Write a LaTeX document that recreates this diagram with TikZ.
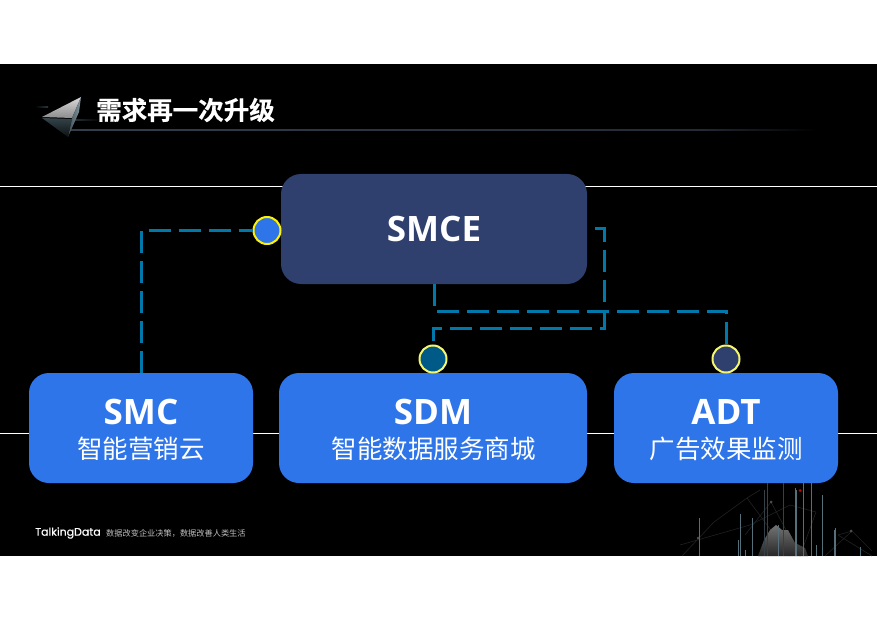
\documentclass[tikz,border=0pt]{standalone}
\usepackage{fontspec}
\setmainfont{Open Sans}
\newfontfamily\cjk{Noto Sans CJK SC}
\newfontfamily\cjkb[FakeBold=0.4]{Noto Sans CJK SC Bold}
\newfontfamily\pop[FakeBold=0.5]{Poppins}
\newcommand{\fsz}[1]{\fontsize{#1}{#1}\selectfont}
\definecolor{navybox}{HTML}{2F3F6E}
\definecolor{bluebox}{HTML}{2E75EA}
\definecolor{dashc}{HTML}{0078AA}
\definecolor{tealc}{HTML}{005A87}
\definecolor{softy}{HTML}{F5F56E}
\definecolor{skyc}{HTML}{55707A}
\definecolor{netc}{HTML}{202224}
\definecolor{rulec}{HTML}{333D4C}
\tikzset{
  navynode/.style={fill=navybox,rounded corners=20pt,minimum width=306pt,minimum height=110pt,inner sep=0pt,text=white,font=\bfseries\fsz{35}},
  bluenode/.style={fill=bluebox,rounded corners=20pt,minimum height=110pt,inner sep=0pt},
  headtext/.style={inner sep=0pt,text=white,font=\bfseries\fsz{35}},
  subtext/.style={inner sep=0pt,text=white,font=\cjk\fsz{25.5}},
  dot/.style={circle,draw=#1,line width=2pt,minimum size=27pt,inner sep=0pt},
  conn/.style={draw=dashc,line width=3pt,dash pattern=on 22pt off 8pt},
  sky/.style={draw=skyc,line width=.9pt},
  net/.style={draw=netc,line width=.6pt},
}
\begin{document}
\begin{tikzpicture}[x=1pt,y=-1pt]
\useasboundingbox (0,0) rectangle (877,620);
\fill[white] (0,0) rectangle (877,620);
\fill[black] (0,64) rectangle (877,556);
% skyline decoration
\begin{scope}
\clip (660,470) rectangle (877,556);
\foreach \a/\b/\c/\d in {682/556/714/522,714/522/747/498,747/498/760/490,747/498/790/556,680/545/750/525,750/525/790/505,790/505/816/512,771/502/800/556,771/502/745/535,816/512/800/556,838/535/872/556,852/531/872/551,838/535/852/531,825/556/852/531}
  \draw[net] (\a,\b) -- (\c,\d);
\shade[top color=black!55!white,bottom color=black!85!white] (758,556) -- (764,540) -- (770,530) -- (776,525) -- (782,530) -- (788,530) -- (795,543) -- (805,548) -- (808,556) -- cycle;
\foreach \x/\y in {699/518,740/514,752/518,778/525,795/488,796/520,796/490,803/483,811/483,835/528,822/495,834/530,860/547,816/545,738/540,745/550}
  \draw[sky] (\x,\y) -- (\x,556);
\foreach \x/\y in {764/490,767/483,783/483}
  \draw[sky,draw=netc!60!skyc] (\x,\y) -- (\x,556);
\fill[red!80!black] (800,490.5) circle (1.5pt);
\fill[netc!80!white] (771,502) circle (1.5pt) (851,531) circle (1.5pt) (698,538) circle (1.5pt);
\end{scope}
% long white rules
\draw[white,line width=1pt] (0,186.5) -- (877,186.5);
\draw[white,line width=1pt] (0,433.5) -- (877,433.5);
% title rule and logo
\shade[left color=rulec,right color=rulec!70!black] (70,129.5) rectangle (700,130.5);
\shade[left color=rulec!70!black,right color=black] (700,129.5) rectangle (817,130.5);
\shade[left color=black,right color=skyc!50!black] (35,107) rectangle (48,108);
\shade[left color=skyc!50!black,right color=black] (70,120) rectangle (100,121);
\shade[top color=white!85!black,bottom color=black!45!white] (81,97) -- (42,117) -- (72,118) -- cycle;
\shade[left color=skyc!70!black,right color=skyc!70!white] (81,97) -- (72,118) -- (68,137) -- (79,112) -- cycle;
\shade[top color=skyc!60!black,bottom color=black!85!skyc] (42,118) -- (72,119) -- (68,137) -- cycle;
\node[inner sep=0pt,text=white,font=\cjkb\fsz{25.5}] (title) at (185.5,110) {需求再一次升级};
% boxes
\node[navynode] (smce) at (434,229) {SMCE};
\node[bluenode,minimum width=224pt] (smc) at (141,428) {};
\node[bluenode,minimum width=308pt] (sdm) at (433,428) {};
\node[bluenode,minimum width=224pt] (adt) at (726,428) {};
\node[headtext] (smct) at (141,412) {SMC};
\node[headtext] (sdmt) at (433,412) {SDM};
\node[headtext] (adtt) at (726,412) {ADT};
\node[subtext] (smcs) at (141,449) {智能营销云};
\node[subtext] (sdms) at (433.5,449) {智能数据服务商城};
\node[subtext] (adts) at (726,449) {广告效果监测};
% dots
\node[dot=yellow,fill=bluebox] (c1) at (267,230.5) {};
\node[dot=softy,fill=tealc] (c2) at (433,359) {};
\node[dot=softy,fill=navybox] (c3) at (726,359) {};
% connectors
\coordinate (r0) at (595,229);
\coordinate (r1) at (604,328);
\coordinate (bus) at (600,311);
\draw[conn] (smc.north) |- (c1.west);
\draw[conn] (r0) -| (r1) -| (c2.north);
\draw[conn] (smce.south) |- (bus) -| (c3.north);
% footer
\node[anchor=west,inner sep=0pt,text=white,font=\pop\fsz{11}] (brand) at (35,533) {TalkingData};
\node[anchor=west,inner sep=0pt,text=white!75!black,font=\cjk\fsz{8.2}] (tag) at (106,533.5) {数据改变企业决策，数据改善人类生活};
\end{tikzpicture}
\end{document}
